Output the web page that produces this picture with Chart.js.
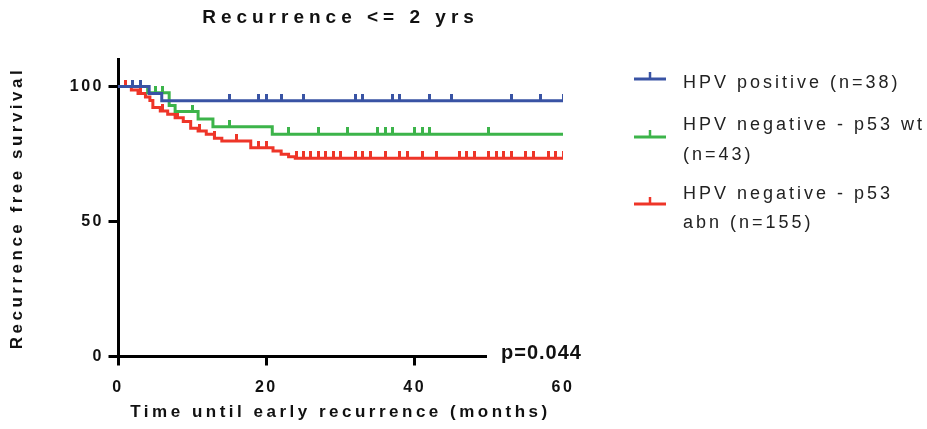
<!DOCTYPE html>
<html>
<head>
<meta charset="utf-8">
<script src="https://cdn.jsdelivr.net/npm/chart.js@4.4.1/dist/chart.umd.min.js"></script>
<style>
  html, body { margin: 0; background: #fff; }
  #box { width: 927px; height: 429px; position: relative; }
</style>
</head>
<body>
<div id="box"><canvas id="km"></canvas></div>
<script>
const xTicks = [0, 20, 40, 60];
const yTicks = [0, 50, 100];
const followUp = 60;
const pValue = 'p=0.044';
const legendText = [
  ['HPV positive (n=38)'],
  ['HPV negative - p53 wt', '(n=43)'],
  ['HPV negative - p53', 'abn (n=155)']
];
const colors = ['#3953a4', '#3cb44a', '#ee3528'];

// HPV positive: event times / survival after event, censored times
const posEventT = [4.2, 5.9];
const posEventS = [97.4, 94.7];
const posCensT = [2, 3, 15, 19, 20, 22, 25, 32, 33, 37, 38, 42, 45, 53, 57, 60];

// HPV negative - p53 wt
const wtEventT = [4.0, 6.9, 7.7, 10.8, 12.8, 20.8];
const wtEventS = [97.7, 93.0, 90.7, 88.0, 85.1, 82.3];
const wtCensT = [5, 6, 10, 15, 23, 27, 31, 35, 36, 37, 40, 41, 42, 50];

// HPV negative - p53 abn
const abnEventT = [1.8, 2.7, 3.7, 4.3, 4.7, 5.7, 6.7, 7.7, 8.8, 9.8, 10.8, 11.9, 13.0, 14.0, 17.9, 20.9, 22.0, 23.0, 23.9];
const abnEventS = [98.7, 97.4, 96.1, 94.8, 92.2, 90.9, 89.7, 88.4, 87.0, 84.5, 83.5, 82.3, 80.8, 79.8, 77.3, 76.1, 74.9, 74.0, 73.4];
const abnCensT = [1, 3, 6, 8, 11, 13, 16, 19, 20, 24, 25, 26, 27, 28, 29, 30, 32, 33, 34, 36, 38, 39, 41, 43, 46, 47, 48, 50, 51, 52, 53, 55, 56, 58, 59, 60];

const family = "'Liberation Sans', Arial, sans-serif";

// step curve points, censored points take the current survival
function kmPoints(evT, evS, censT) {
  let pts = [{x: 0, y: 100, c: false}];
  evT.forEach((t, i) => pts.push({x: t, y: evS[i], c: false}));
  censT.forEach(t => pts.push({x: t, y: null, c: true}));
  pts.sort((a, b) => a.x - b.x || (a.c - b.c));
  let s = 100;
  pts.forEach(p => { if (p.c) p.y = s; else s = p.y; });
  if (pts[pts.length - 1].x < followUp) pts.push({x: followUp, y: s, c: false});
  return pts;
}

// little upward tick used for censored cases
function tickMark(color) {
  let c = document.createElement('canvas');
  c.width = 3; c.height = 14;
  let g = c.getContext('2d');
  g.fillStyle = color;
  g.fillRect(0, 0, 3, 7);
  return c;
}

// graphpad style letter spacing, by font size
const spacing = {19: '5px', 17: '3.5px', 16: '2.5px', 18: '3px', 20: '1px'};
let ctx = document.getElementById('km').getContext('2d');
const fontProp = Object.getOwnPropertyDescriptor(CanvasRenderingContext2D.prototype, 'font');
Object.defineProperty(ctx, 'font', {
  get() { return fontProp.get.call(this); },
  set(v) {
    fontProp.set.call(this, v);
    let m = /(\d+)px/.exec(v);
    this.letterSpacing = (m && spacing[m[1]]) || '0px';
  }
});

function curve(i, pts) {
  let img = tickMark(colors[i]);
  return {
    data: pts,
    borderColor: colors[i],
    backgroundColor: colors[i],
    borderWidth: 3,
    stepped: true,
    fill: false,
    pointStyle: img,
    pointRadius: c => (c.raw && c.raw.c) ? 4 : 0,
    pointHoverRadius: 0
  };
}

const keyPlugin = {
  id: 'key',
  afterDraw(chart) {
    let c = chart.ctx;
    let rows = [79, 137, 204];
    let textY = [83.5, 125.5, 194];
    c.save();
    chart.data.datasets.forEach((ds, i) => {
      let y = rows[i];
      c.strokeStyle = ds.borderColor;
      c.lineWidth = 3;
      c.beginPath(); c.moveTo(634, y); c.lineTo(666, y); c.stroke();
      c.lineWidth = 2.5;
      c.beginPath(); c.moveTo(650, y); c.lineTo(650, y - 7); c.stroke();
      c.fillStyle = '#222';
      c.font = '18px ' + family;
      c.textBaseline = 'middle';
      c.textAlign = 'left';
      legendText[i].forEach((line, j) => c.fillText(line, 683, textY[i] + j * 29.5));
    });
    // p value sits over the end of the x axis
    c.fillStyle = '#fff';
    c.fillRect(487, 338, 110, 30);
    c.fillStyle = '#111';
    c.font = 'bold 20px ' + family;
    c.textBaseline = 'alphabetic';
    c.fillText(pValue, 501, 358.5);
    c.restore();
  }
};

const axisFont = {family: family, size: 16, weight: 'bold'};
const titleFont = {family: family, size: 17, weight: 'bold'};

new Chart(ctx, {
  type: 'line',
  data: {
    datasets: [
      curve(0, kmPoints(posEventT, posEventS, posCensT)),
      curve(1, kmPoints(wtEventT, wtEventS, wtCensT)),
      curve(2, kmPoints(abnEventT, abnEventS, abnCensT))
    ]
  },
  options: {
    responsive: true,
    maintainAspectRatio: false,
    animation: false,
    events: [],
    layout: { padding: { left: 0, right: 364, top: 0, bottom: 0 } },
    plugins: {
      legend: { display: false },
      tooltip: { enabled: false },
      title: {
        display: true,
        fullSize: false,
        text: 'Recurrence <= 2 yrs',
        color: '#111',
        font: {family: family, size: 19, weight: 'bold'},
        padding: {top: 6, bottom: 30.7}
      }
    },
    scales: {
      x: {
        type: 'linear',
        min: 0,
        max: followUp,
        afterFit: s => { s.height = 72.5; },
        afterBuildTicks: s => { s.ticks = xTicks.map(v => ({value: v})); },
        grid: { drawOnChartArea: false, color: '#000', lineWidth: 3, tickLength: 9 },
        border: { color: '#000', width: 3 },
        ticks: { color: '#111', font: axisFont, padding: 12, maxRotation: 0 },
        title: { display: true, text: 'Time until early recurrence (months)', color: '#111', font: titleFont, padding: {top: 0, bottom: 6} }
      },
      y: {
        min: 0,
        max: 110,
        afterFit: s => { s.width = 118; },
        afterBuildTicks: s => { s.ticks = yTicks.map(v => ({value: v})); },
        grid: { drawOnChartArea: false, color: '#000', lineWidth: 3, tickLength: 9.5 },
        border: { color: '#000', width: 3 },
        ticks: { color: '#111', font: axisFont, padding: 4.5 },
        title: { display: true, text: 'Recurrence free survival', color: '#111', font: titleFont, padding: {top: 7, bottom: 0} }
      }
    }
  },
  plugins: [keyPlugin]
});
</script>
</body>
</html>
